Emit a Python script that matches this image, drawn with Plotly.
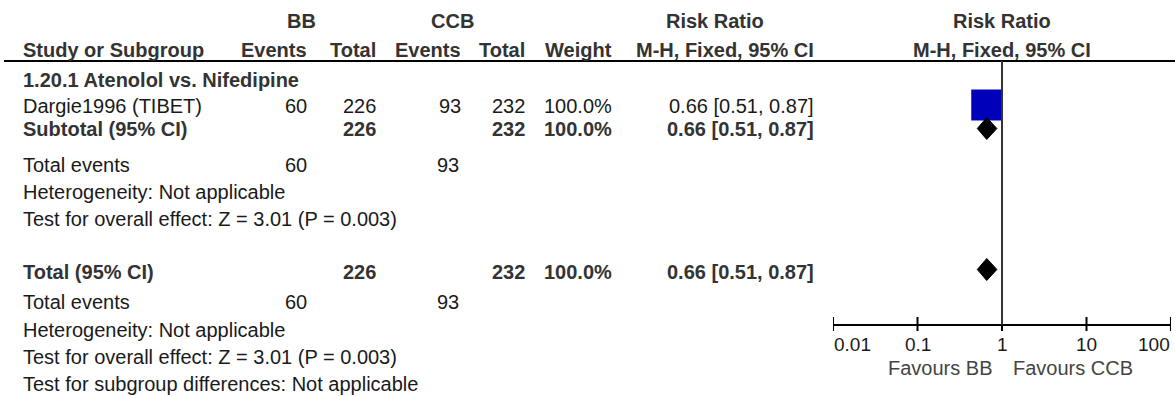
import math
import plotly.graph_objects as go

# ---------------- data ----------------
section_title = "1.20.1 Atenolol vs. Nifedipine"
studies = ["Dargie1996 (TIBET)"]
bb_events = [60]
bb_total = [226]
ccb_events = [93]
ccb_total = [232]
weights = [100.0]
rr = [0.66]
ci_low = [0.51]
ci_high = [0.87]

subtotal_rr = [0.66]
subtotal_low = [0.51]
subtotal_high = [0.87]
total_rr = [0.66]
total_low = [0.51]
total_high = [0.87]

het_text = "Heterogeneity: Not applicable"
effect_text = "Test for overall effect: Z = 3.01 (P = 0.003)"
subgroup_text = "Test for subgroup differences: Not applicable"

tick_vals = [0.01, 0.1, 1, 10, 100]
tick_labels = ["0.01", "0.1", "1", "10", "100"]
favours_left = "Favours BB"
favours_right = "Favours CCB"

# ---------------- layout (pixels) ----------------
W, H = 1175, 396
FONT = "Liberation Sans, Arial, Helvetica, sans-serif"
FS = 20
ROW = dict(head1=21, head2=49.5, line=61, section=79.5, study=106, subtotal=128.5,
           te1=164.5, het1=191.5, test1=218.5, total=271.5, te2=301.5, het2=330,
           test2=356.5, subgrp=383.5, axis=325, ticklab=344.5, favours=368)
COL = dict(left=22, bb_ev=308, bb_tot=377, ccb_ev=462, ccb_tot=526, weight=613,
           rr=815, bb_c=301.5, ccb_c=452, rr_head_c=714.5, forest_c=1001.5)
PLOT_X0, PLOT_X1 = 833, 1171
BOX = 31          # square size (px)
DIAM_H = 11       # diamond half height (px)

fig = go.Figure()
annotations = []


def txt(px, row, text, anchor="left", bold=False, color="#1a1a1a", size=FS):
    annotations.append(dict(
        x=px / W, xref="paper", y=row, yref="y",
        text=f"<b>{text}</b>" if bold else text,
        showarrow=False, xanchor=anchor, yanchor="middle",
        font=dict(family=FONT, size=size, color=color), borderpad=0))


HC = "#333333"
# headers
txt(COL["bb_c"], ROW["head1"], "BB", "center", True, HC)
txt(COL["ccb_c"], ROW["head1"], "CCB", "center", True, HC)
txt(COL["rr_head_c"], ROW["head1"], "Risk Ratio", "center", True, HC)
txt(COL["forest_c"], ROW["head1"], "Risk Ratio", "center", True, HC)
txt(COL["left"], ROW["head2"], "Study or Subgroup", "left", True, HC)
txt(COL["bb_ev"], ROW["head2"], "Events", "right", True, HC)
txt(COL["bb_tot"], ROW["head2"], "Total", "right", True, HC)
txt(COL["ccb_ev"], ROW["head2"], "Events", "right", True, HC)
txt(COL["ccb_tot"], ROW["head2"], "Total", "right", True, HC)
txt(COL["weight"], ROW["head2"], "Weight", "right", True, HC)
txt(COL["rr"], ROW["head2"], "M-H, Fixed, 95% CI", "right", True, HC)
txt(COL["forest_c"], ROW["head2"], "M-H, Fixed, 95% CI", "center", True, HC)

# section
txt(COL["left"], ROW["section"], section_title, "left", True, HC)
for i, s in enumerate(studies):
    y = ROW["study"]
    txt(COL["left"], y, s)
    txt(COL["bb_ev"], y, str(bb_events[i]), "right")
    txt(COL["bb_tot"], y, str(bb_total[i]), "right")
    txt(COL["ccb_ev"], y, str(ccb_events[i]), "right")
    txt(COL["ccb_tot"], y, str(ccb_total[i]), "right")
    txt(COL["weight"], y, f"{weights[i]:.1f}%", "right")
    txt(COL["rr"], y, f"{rr[i]:.2f} [{ci_low[i]:.2f}, {ci_high[i]:.2f}]", "right")

# subtotal
y = ROW["subtotal"]
txt(COL["left"], y, "Subtotal (95% CI)", "left", True, HC)
txt(COL["bb_tot"], y, str(sum(bb_total)), "right", True, HC)
txt(COL["ccb_tot"], y, str(sum(ccb_total)), "right", True, HC)
txt(COL["weight"], y, f"{sum(weights):.1f}%", "right", True, HC)
txt(COL["rr"], y, f"{subtotal_rr[0]:.2f} [{subtotal_low[0]:.2f}, {subtotal_high[0]:.2f}]", "right", True, HC)
txt(COL["left"], ROW["te1"], "Total events")
txt(COL["bb_ev"], ROW["te1"], str(sum(bb_events)), "right")
txt(COL["ccb_ev"] - 2, ROW["te1"], str(sum(ccb_events)), "right")
txt(COL["left"], ROW["het1"], het_text)
txt(COL["left"], ROW["test1"], effect_text)

# total
y = ROW["total"]
txt(COL["left"], y, "Total (95% CI)", "left", True, HC)
txt(COL["bb_tot"], y, str(sum(bb_total)), "right", True, HC)
txt(COL["ccb_tot"], y, str(sum(ccb_total)), "right", True, HC)
txt(COL["weight"], y, f"{sum(weights):.1f}%", "right", True, HC)
txt(COL["rr"], y, f"{total_rr[0]:.2f} [{total_low[0]:.2f}, {total_high[0]:.2f}]", "right", True, HC)
txt(COL["left"], ROW["te2"], "Total events")
txt(COL["bb_ev"], ROW["te2"], str(sum(bb_events)), "right")
txt(COL["ccb_ev"] - 2, ROW["te2"], str(sum(ccb_events)), "right")
txt(COL["left"], ROW["het2"], het_text)
txt(COL["left"], ROW["test2"], effect_text)
txt(COL["left"], ROW["subgrp"], subgroup_text)

# ---------------- forest plot ----------------
for i in range(len(studies)):
    fig.add_trace(go.Scatter(x=[ci_low[i], ci_high[i]], y=[ROW["study"]] * 2, mode="lines",
                             line=dict(color="black", width=2), hoverinfo="skip"))
    fig.add_trace(go.Scatter(x=[rr[i]], y=[ROW["study"] - 1], mode="markers",
                             marker=dict(symbol="square", size=BOX, color="#0000bb",
                                         line=dict(width=0)), hoverinfo="skip"))


def diamond(est, lo, hi, yc):
    fig.add_trace(go.Scatter(x=[lo, est, hi, est, lo], y=[yc, yc - DIAM_H, yc, yc + DIAM_H, yc],
                             mode="lines", fill="toself", fillcolor="black",
                             line=dict(color="black", width=1), hoverinfo="skip"))


diamond(subtotal_rr[0], subtotal_low[0], subtotal_high[0], ROW["subtotal"])
diamond(total_rr[0], total_low[0], total_high[0], ROW["total"] - 2)

# axis line and ticks
fig.add_trace(go.Scatter(x=[tick_vals[0], tick_vals[-1]], y=[ROW["axis"]] * 2, mode="lines",
                         line=dict(color="black", width=2), hoverinfo="skip"))
for tv in tick_vals:
    fig.add_trace(go.Scatter(x=[tv, tv], y=[ROW["axis"] - 8, ROW["axis"] + 6], mode="lines",
                             line=dict(color="black", width=2), hoverinfo="skip"))
anchors = ["left", "center", "center", "center", "right"]
for tv, tl, an in zip(tick_vals, tick_labels, anchors):
    annotations.append(dict(x=math.log10(tv), xref="x", y=ROW["ticklab"], yref="y", text=tl,
                            showarrow=False, xanchor=an, yanchor="middle", borderpad=0,
                            font=dict(family=FONT, size=FS - 1, color="#1a1a1a")))
annotations.append(dict(x=0, xref="x", xshift=-9, y=ROW["favours"], yref="y", text=favours_left,
                        showarrow=False, xanchor="right", yanchor="middle", borderpad=0,
                        font=dict(family=FONT, size=FS, color="#444444")))
annotations.append(dict(x=0, xref="x", xshift=10, y=ROW["favours"], yref="y", text=favours_right,
                        showarrow=False, xanchor="left", yanchor="middle", borderpad=0,
                        font=dict(family=FONT, size=FS, color="#444444")))

shapes = [
    dict(type="line", xref="paper", yref="y", x0=4 / W, x1=1.0, y0=ROW["line"], y1=ROW["line"],
         line=dict(color="black", width=2)),
    dict(type="line", xref="x", yref="y", x0=1, x1=1, y0=ROW["line"], y1=ROW["axis"],
         line=dict(color="#333333", width=2)),
]

fig.update_layout(
    width=W, height=H, margin=dict(l=0, r=0, t=0, b=0),
    paper_bgcolor="white", plot_bgcolor="white", showlegend=False,
    xaxis=dict(type="log", range=[-2, 2], domain=[PLOT_X0 / W, PLOT_X1 / W],
               visible=False, fixedrange=True),
    yaxis=dict(range=[H, 0], domain=[0, 1], visible=False, fixedrange=True),
    annotations=annotations, shapes=shapes,
)

fig.write_html("out.html", config={"displayModeBar": False},
               post_script="document.body.style.margin='0px';")
